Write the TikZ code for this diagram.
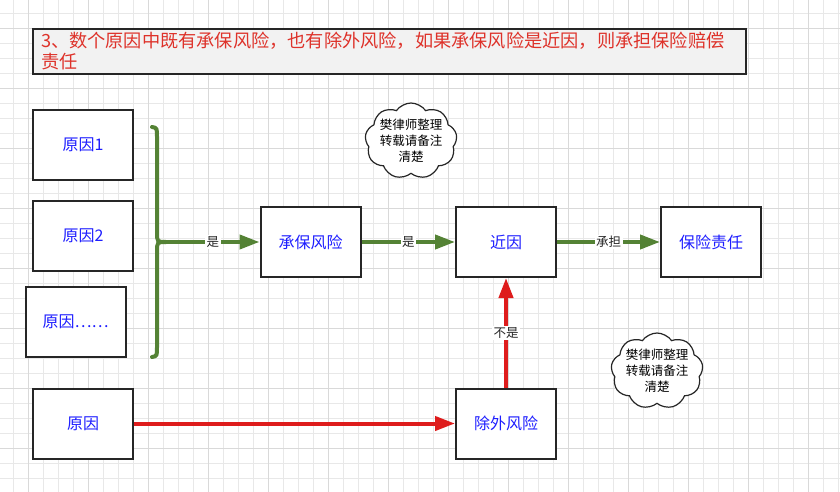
\documentclass[tikz,border=0pt]{standalone}
\usepackage{fontspec}
\setmainfont{Noto Sans CJK SC}
\usetikzlibrary{positioning,arrows.meta,shapes.symbols}
\definecolor{flowgreen}{RGB}{84,130,53}
\definecolor{flowred}{RGB}{222,28,28}
\definecolor{txtblue}{RGB}{30,30,255}
\definecolor{titlered}{RGB}{222,50,42}

\begin{document}
\begin{tikzpicture}[x=1pt, y=-1pt,
  box/.style={draw=black!85, line width=2pt, fill=white, minimum width=100pt,
              minimum height=70pt, text=txtblue, font=\fontsize{16}{19}\selectfont},
  titlebox/.style={draw=black!85, line width=2pt, fill=black!5, minimum width=713pt,
                   minimum height=43pt, inner xsep=8pt, text width=697pt, align=left,
                   text=titlered, font=\fontsize{18.2}{21}\selectfont},
  memo/.style={cloud, cloud puffs=9, cloud puff arc=110, cloud ignores aspect,
               draw=black!85, line width=1.2pt, fill=white, minimum width=92pt,
               minimum height=76pt, align=center, inner xsep=-4pt, inner ysep=-10pt,
               font=\fontsize{12.5}{16}\selectfont},
  gflow/.style={-{Triangle[length=20pt, width=14pt]}, line width=4pt, flowgreen},
  rflow/.style={-{Triangle[length=20pt, width=14pt]}, line width=4pt, flowred},
  brace/.style={line width=4pt, flowgreen, line cap=round},
  lbl/.style={fill=white, inner sep=1.5pt, text=black!85, font=\fontsize{12.5}{14}\selectfont},
  gridminor/.style={black!9, line width=0.6pt},
  gridmajor/.style={black!15, line width=0.8pt},
]
\useasboundingbox (0,0) rectangle (840,492);

% ---- background grid ----
\foreach \i in {0,...,55} {
  \draw[gridminor] (13.3+15*\i,0) -- ++(0,492);
}
\foreach \i in {0,...,32} {
  \draw[gridminor] (0,13.3+15*\i) -- ++(840,0);
}
\foreach \i in {0,...,13} {
  \draw[gridmajor] (28.3+60*\i,0) -- ++(0,492);
}
\foreach \i in {0,...,8} {
  \draw[gridmajor] (0,28.3+60*\i) -- ++(840,0);
}

% ---- title ----
\node[titlebox] (title) at (389.5,51.5)
  {3、数个原因中既有承保风险，也有除外风险，如果承保风险是近因，则承担保险赔偿\\责任};

% ---- causes ----
\foreach [count=\k] \cx/\cy/\txt in {83/145/原因1, 83/235.5/原因2, 75.5/321.5/原因……} {
  \node[box] (c\k) at (\cx,\cy) {\txt};
}
\node[box] (c0) at (83,423.5) {原因};

% ---- main row ----
\node[box] (risk) at (310.5,242) {承保风险};
\node[box] (prox) at (506,242) {近因};
\node[box] (liab) at (711,242) {保险责任};
\node[box] (excl) at (506,423.5) {除外风险};

% ---- notes ----
\node[memo] (memo1) at (411,141) {樊律师整理\\转载请备注\\清楚};
\node[memo] (memo2) at (657,371) {樊律师整理\\转载请备注\\清楚};

% ---- brace over the causes ----
\coordinate (btip) at (166,242);
\draw[brace] (152,127) .. controls (157,128) .. (157,137) -- (157,232)
  .. controls (157,242) .. (btip);
\draw[brace] (btip) .. controls (157,242) .. (157,252) -- (157,347)
  .. controls (157,356) .. (152,357);

% ---- flows ----
\draw[gflow] (btip) -- (risk.west) node[lbl, midway] {是};
\draw[gflow] (risk.east) -- (prox.west) node[lbl, midway] {是};
\draw[gflow] (prox.east) -- (liab.west) node[lbl, midway] {承担};
\draw[rflow] (c0.east) -- (excl.west);
\draw[rflow] (excl.north) -- (prox.south) node[lbl, midway] {不是};

\end{tikzpicture}
\end{document}
